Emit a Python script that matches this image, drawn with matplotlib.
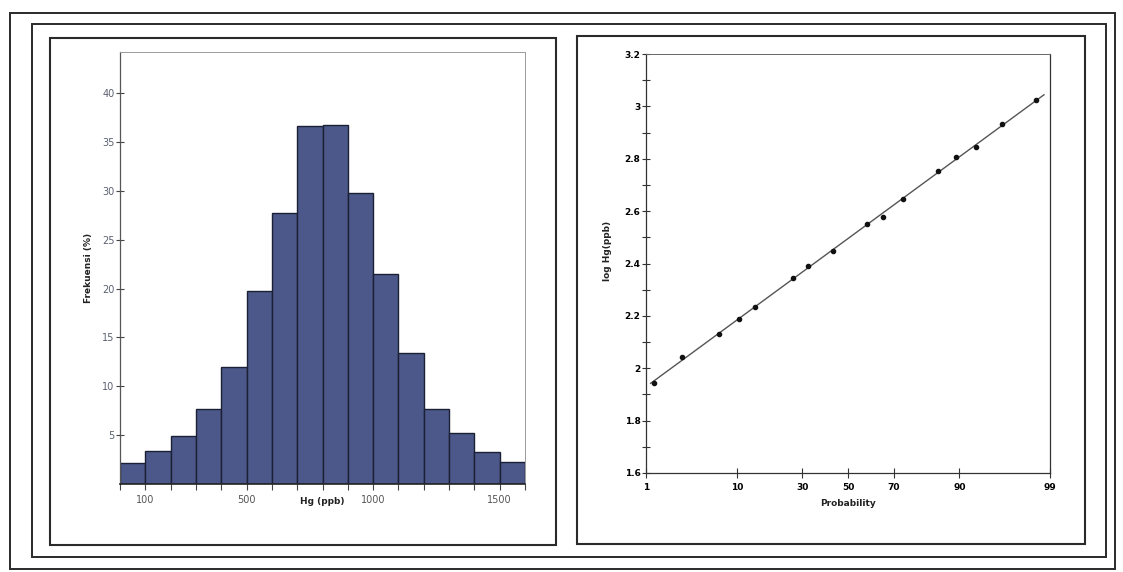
import numpy as np
import matplotlib
matplotlib.use('Agg')
import matplotlib.pyplot as plt
from matplotlib.patches import Rectangle
from statistics import NormalDist

# --- data -------------------------------------------------------------------
# histogram of Hg (ppb), bins of 100 from 0 to 1600
bin_edges = [0, 100, 200, 300, 400, 500, 600, 700, 800, 900, 1000,
             1100, 1200, 1300, 1400, 1500, 1600]
freq_pct = [2.1, 3.4, 4.9, 7.7, 12.0, 19.7, 27.7, 36.6, 36.7, 29.8,
            21.5, 13.4, 7.7, 5.2, 3.3, 2.2]
hist_xticks = [100, 500, 1000, 1500]
hist_yticks = [5, 10, 15, 20, 25, 30, 35, 40]

# normal probability plot of log Hg
prob_pct = [1.26, 2.8, 6.9, 10.5, 14.3, 26.4, 32.2, 43.2, 58.6, 65.6,
            73.8, 85.1, 89.3, 92.9, 96.2, 98.5]
log_hg = [1.945, 2.044, 2.131, 2.189, 2.235, 2.343, 2.390, 2.448, 2.549,
          2.578, 2.647, 2.754, 2.806, 2.845, 2.932, 3.024]
fit_range = [1.15, 98.8]
prob_ticks = [1, 10, 30, 50, 70, 90, 99]
log_yticks = [1.6, 1.8, 2.0, 2.2, 2.4, 2.6, 2.8, 3.0, 3.2]
log_ylabels = ['1.6', '1.8', '2', '2.2', '2.4', '2.6', '2.8', '3', '3.2']

# --- probability scale ------------------------------------------------------
nd = NormalDist()
to_z = np.vectorize(lambda p: nd.inv_cdf(float(np.clip(p / 100.0, 1e-9, 1 - 1e-9)))
                    if np.isfinite(p) else np.nan, otypes=[float])
to_p = np.vectorize(lambda z: nd.cdf(float(z)) * 100.0 if np.isfinite(z) else np.nan,
                    otypes=[float])

W, H = 1123, 572
fig = plt.figure(figsize=(W / 100, H / 100), dpi=100)
fig.patch.set_facecolor('white')


def fbox(x0, y0, x1, y1):
    # pixel box (top-left origin) -> figure fraction [left, bottom, w, h]
    return [x0 / W, 1 - y1 / H, (x1 - x0) / W, (y1 - y0) / H]


# frames
for (x0, y0, x1, y1), lw in [((10, 13, 1115, 569), 1.4),
                            ((32, 24, 1106, 557), 1.4),
                            ((50, 38, 556, 545), 1.5),
                            ((577, 36, 1085, 544), 1.5)]:
    l, b, w, h = fbox(x0, y0, x1, y1)
    fig.add_artist(Rectangle((l, b), w, h, transform=fig.transFigure,
                             fill=False, lw=lw, ec='#2a2a2a'))

# --- histogram --------------------------------------------------------------
ax1 = fig.add_axes(fbox(120, 52, 525, 484))
ax1.bar(bin_edges[:-1], freq_pct, width=np.diff(bin_edges), align='edge',
        color='#4b5889', edgecolor='#1c2035', linewidth=1.0)
ax1.set_xlim(bin_edges[0], bin_edges[-1])
ax1.set_ylim(0, 44.2)
ax1.set_xticks(hist_xticks)
ax1.set_xticks(bin_edges, minor=True)
ax1.set_yticks(hist_yticks)
ax1.tick_params(axis='y', direction='inout', length=6, width=0.8,
                labelsize=7, labelcolor='#5a6070', color='#444444', pad=1)
ax1.tick_params(axis='x', which='both', direction='out', length=4, width=0.8,
                labelsize=7, labelcolor='#555555', color='#444444', pad=4)
for side in ['top', 'right', 'bottom']:
    ax1.spines[side].set_color('#9a9a9a')
    ax1.spines[side].set_linewidth(0.7)
ax1.spines['bottom'].set_color('#222222')
ax1.spines['bottom'].set_linewidth(1.2)
ax1.spines['left'].set_color('#555555')
ax1.spines['left'].set_linewidth(0.9)
ax1.text(0.5, -0.04, 'Hg (ppb)', transform=ax1.transAxes, ha='center',
         va='center', fontsize=6.5, fontweight='bold', color='#222222')
ax1.text(-0.078, 0.5, 'Frekuensi (%)', transform=ax1.transAxes, ha='center',
         va='center', rotation=90, fontsize=6.5, fontweight='bold', color='#222222')

# --- probability plot -------------------------------------------------------
ax2 = fig.add_axes(fbox(646, 54, 1050, 473))
ax2.set_xscale('function', functions=(to_z, to_p))
fit = np.polyfit(to_z(np.array(prob_pct)), log_hg, 1)
p_line = np.array(fit_range)
ax2.plot(p_line, np.polyval(fit, to_z(p_line)), color='#555555', lw=1.0)
ax2.plot(prob_pct, log_hg, 'o', color='#111111', ms=3)
ax2.set_xlim(prob_ticks[0], prob_ticks[-1])
ax2.set_ylim(1.6, 3.2)
ax2.set_xticks(prob_ticks)
ax2.set_xticklabels([str(t) for t in prob_ticks])
ax2.xaxis.set_minor_locator(matplotlib.ticker.NullLocator())
ax2.set_yticks(log_yticks)
ax2.set_yticklabels(log_ylabels)
ax2.set_yticks(np.arange(1.7, 3.2, 0.2), minor=True)
ax2.tick_params(axis='y', which='both', direction='inout', length=6, width=0.8,
                labelsize=6.5, color='#333333', pad=1)
ax2.tick_params(axis='x', direction='inout', length=7, width=0.8,
                labelsize=6.5, color='#333333', pad=4)
for lab in ax2.get_xticklabels() + ax2.get_yticklabels():
    lab.set_fontweight('bold')
for side in ['left', 'bottom', 'right']:
    ax2.spines[side].set_color('#333333')
    ax2.spines[side].set_linewidth(0.9)
ax2.spines['top'].set_color('#666666')
ax2.spines['top'].set_linewidth(0.7)
ax2.text(0.5, -0.072, 'Probability', transform=ax2.transAxes, ha='center',
         va='center', fontsize=6.5, fontweight='bold', color='#222222')
ax2.text(-0.095, 0.53, 'log Hg(ppb)', transform=ax2.transAxes, ha='center',
         va='center', rotation=90, fontsize=6.5, fontweight='bold', color='#222222')

fig.savefig('out.png', dpi=100)
